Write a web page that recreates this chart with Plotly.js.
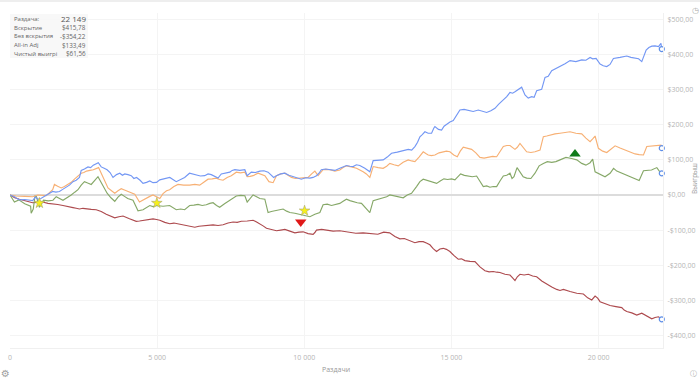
<!DOCTYPE html>
<html><head><meta charset="utf-8">
<script src="https://cdn.plot.ly/plotly-3.0.1.min.js"></script>
<style>html,body{margin:0;padding:0;background:#fff}#c{width:700px;height:379px}</style></head>
<body><div id="c"></div>
<script>
var blueX=[0,150,320,500,770,860,950,1050,1230,1450,1560,1680,1790,1900,2020,2140,2250,2360,2420,2530,2650,2740,2830,3000,3100,3200,3300,3400,3500,3620,3730,3820,3900,4010,4120,4210,4300,4420,4520,4640,4750,4860,4980,5090,5260,5430,5650,5790,5935,6100,6210,6330,6470,6615,6730,6840,6960,7070,7180,7320,7470,7550,7640,7810,7980,8060,8200,8340,8490,8630,8770,8960,9050,9200,9340,9480,9620,9760,9900,10050,10190,10300,10415,10500,10580,10720,10870,11040,11207,11320,11434,11550,11660,11770,11887,12058,12228,12341,12510,12681,12820,12965,13160,13362,13450,13532,13650,13759,13850,13929,14010,14099,14210,14326,14400,14439,14560,14666,14750,14836,14950,15063,15180,15289,15430,15573,15740,15913,16060,16197,16340,16480,16600,16707,16764,16880,16990,17080,17160,17280,17387,17500,17610,17727,17810,17897,17980,18067,18181,18290,18408,18550,18691,18860,19031,19230,19428,19570,19712,19800,19916,20052,20160,20279,20390,20505,20730,20959,21100,21242,21360,21469,21617,21710,21810,21920,22036,22120,22149];
var blueY=[0,-5,-14,-13,-16,-6,-12,-10,-1,10,8,10,16,22,28,38,42,50,70,74,80,78,85,92,80,76,72,64,50,58,62,56,60,58,55,47,50,42,33,36,40,35,36,43,47,50,38,44,50,62,60,58,54,55,60,58,52,48,60,63,65,70,72,70,72,55,65,64,68,69,65,50,55,60,62,56,52,50,45,49,48,50,55,62,72,74,72,70,76,80,84,82,81,86,84,76,66,98,99,100,108,119,122,126,128,130,128,138,150,166,172,180,176,176,190,195,187,185,196,202,208,212,226,242,244,242,238,242,238,235,240,247,258,266,271,280,292,290,294,300,307,285,276,280,278,297,299,301,335,338,354,360,367,374,383,380,385,384,392,388,389,373,368,366,372,389,392,396,392,389,388,380,413,420,424,425,423,432,415.78];
var orangeX=[0,200,500,770,940,1230,1450,1510,1620,1740,1850,1970,2080,2190,2300,2420,2510,2600,2720,2830,3010,3160,3330,3450,3560,3670,3780,3890,4000,4120,4240,4400,4520,4640,4750,4860,4980,5090,5200,5320,5425,5570,5710,5900,6105,6280,6445,6590,6730,6870,7010,7120,7240,7380,7520,7690,7830,7980,8060,8160,8260,8430,8550,8660,8800,8940,9055,9200,9340,9450,9565,9700,9850,10000,10130,10250,10360,10470,10640,10750,10870,11040,11207,11320,11434,11600,11774,12001,12110,12228,12341,12510,12681,12800,12908,13050,13192,13360,13532,13650,13759,13900,14042,14130,14212,14320,14439,14580,14722,14830,14949,15080,15199,15300,15403,15540,15686,15830,15970,16110,16253,16400,16537,16650,16764,16880,16990,17160,17240,17330,17440,17557,17700,17840,18011,18124,18240,18351,18520,18691,18860,19031,19230,19428,19570,19712,19800,19882,19995,20140,20279,20420,20562,20730,20902,21070,21242,21380,21526,21639,21800,21980,22120,22149];
var orangeY=[0,-3,-4,-5,0,-2,15,30,25,20,24,30,36,45,52,62,64,68,70,72,78,50,20,12,5,12,18,14,10,5,2,-20,-14,-8,-4,0,-6,-10,4,12,15,24,30,28,28,30,28,36,45,46,48,44,42,50,55,65,63,65,52,53,55,62,58,55,38,35,55,60,62,56,50,47,48,49,50,60,68,55,72,73,72,68,71,78,83,80,76,66,60,50,81,78,76,82,90,86,83,93,100,97,95,108,123,118,114,112,114,120,123,125,123,114,109,125,136,134,130,120,107,105,107,110,109,122,138,141,141,130,136,147,135,123,121,123,128,166,168,171,174,176,178,180,176,174,162,152,160,168,133,125,121,130,140,134,128,122,117,115,114,138,140,142,142,133.49];
var greenX=[0,150,300,500,700,720,790,850,900,970,1000,1140,1300,1460,1570,1800,1950,2080,2200,2310,2420,2530,2640,2760,2990,3100,3300,3430,3560,3670,3780,3890,4000,4180,4350,4520,4640,4750,4860,4980,5200,5425,5650,5800,5935,6105,6250,6390,6530,6670,6790,6900,7020,7125,7290,7465,7570,7690,7840,7980,8060,8150,8260,8380,8490,8660,8770,8880,8995,9140,9280,9400,9510,9680,9850,10020,10190,10360,10530,10640,10780,10925,11060,11207,11320,11434,11550,11660,11800,11944,12090,12228,12341,12510,12681,12800,12908,13140,13362,13500,13645,13815,13930,14042,14150,14269,14380,14496,14620,14745,14870,15006,15119,15220,15312,15440,15573,15710,15856,15970,16083,16200,16310,16420,16537,16650,16764,16880,16990,17060,17126,17230,17330,17440,17557,17700,17840,17980,18124,18260,18408,18550,18691,18890,19088,19260,19428,19570,19712,19800,19882,20052,20220,20392,20510,20619,20790,20959,21100,21242,21380,21526,21639,21800,21980,22120,22149];
var greenY=[0,-20,-14,-25,-32,-52,-40,-3,-5,-30,-35,-15,-17,-15,-5,-15,-8,0,8,15,28,38,34,30,52,35,5,-8,-18,-6,2,-4,-10,-15,-45,-42,-36,-30,-33,-30,-32,-30,-42,-40,-42,-30,-29,-27,-30,-28,-24,-22,-30,-35,-25,-15,-8,-3,-1,-2,-20,-12,0,-5,-10,-12,-50,-47,-45,-42,-40,-46,-50,-52,-55,-60,-62,-55,-50,-28,-26,-30,-28,-24,-18,-12,-16,-19,-22,-24,-36,-50,-16,-12,-9,-5,0,-4,-8,0,5,24,38,45,42,38,36,33,40,46,44,46,43,52,60,56,54,52,54,40,24,26,22,24,24,40,54,56,62,47,52,78,64,52,48,47,62,83,90,95,93,95,100,107,104,100,90,85,92,102,66,58,52,62,76,68,62,56,52,46,41,69,70,71,78,61.56];
var redX=[0,160,320,550,770,940,1110,1290,1460,1620,1800,1970,2140,2250,2360,2480,2590,2760,2930,3100,3270,3420,3560,3700,3840,4060,4290,4400,4520,4700,4860,4980,5090,5260,5430,5570,5710,5850,5990,6130,6280,6420,6560,6730,6900,7070,7240,7410,7580,7720,7860,8060,8260,8380,8490,8600,8715,8890,9055,9200,9340,9510,9680,9820,9960,10130,10300,10360,10415,10590,10755,10980,11207,11350,11500,11750,12000,12250,12500,12700,12900,13080,13248,13400,13532,13650,13758,13900,14042,14150,14269,14380,14495,14610,14722,14830,14949,15090,15232,15340,15459,15630,15800,15970,16140,16280,16423,16540,16650,16820,16990,17080,17160,17240,17330,17470,17614,17760,17897,18070,18238,18410,18578,18690,18805,18920,19031,19260,19485,19630,19769,19882,19970,20052,20220,20392,20590,20789,20870,20959,21130,21299,21469,21640,21809,21920,22036,22149];
var redY=[0,-8,-12,-17,-22,-21,-20,-24,-25,-27,-30,-34,-36,-38,-40,-38,-40,-41,-42,-47,-55,-60,-65,-62,-60,-68,-75,-74,-72,-70,-68,-70,-72,-78,-82,-80,-82,-86,-88,-90,-92,-89,-88,-86,-85,-87,-85,-80,-77,-78,-75,-74,-72,-77,-82,-88,-95,-99,-102,-100,-98,-103,-108,-106,-105,-110,-112,-107,-100,-98,-100,-103,-102,-104,-105,-109,-108,-110,-112,-106,-108,-118,-125,-124,-128,-131,-136,-133,-133,-137,-142,-153,-161,-154,-152,-155,-161,-173,-183,-182,-187,-189,-190,-205,-216,-219,-218,-220,-221,-226,-228,-236,-244,-233,-226,-228,-226,-231,-233,-245,-254,-262,-269,-272,-269,-273,-275,-280,-282,-293,-299,-288,-294,-304,-310,-315,-318,-321,-328,-332,-336,-342,-337,-345,-353,-349,-347,-354.22];
var endX=[22149,22149,22149,22149];
var endY=[415.78,133.49,61.56,-354.22];
var starX=[1000,4990,10010];
var starY=[-23,-23,-45];
var statLabels=['Раздача:','Вскрытие','Без вскрытия','All-in Adj','Чистый выигрі'];
var statValues=['22 149','$415,78','-$354,22','$133,49','$61,56'];
var xTicks=[0,5000,10000,15000,20000];
var xTickText=['0','5 000','10 000','15 000','20 000'];
var yTicks=[-400,-300,-200,-100,0,100,200,300,400,500];
var yTickText=['-$400,00','-$300,00','-$200,00','-$100,00','$0,00','$100,00','$200,00','$300,00','$400,00','$500,00'];

function ln(x,y,c){return {x:x,y:y,type:'scatter',mode:'lines',line:{color:c,width:1.15,shape:'linear'},hoverinfo:'skip'};}
var traces=[ln(redX,redY,'#ad4a4e'),ln(greenX,greenY,'#86a868'),ln(orangeX,orangeY,'#f7b074'),ln(blueX,blueY,'#7397f4'),
 {x:endX,y:endY,type:'scatter',mode:'markers',cliponaxis:false,marker:{symbol:'circle',size:5,color:'#fff',line:{color:'#5f8fe8',width:1.2}}},
 {x:starX,y:starY,type:'scatter',mode:'markers',marker:{symbol:'star',size:8,color:'#f7f01c',line:{color:'#a9a870',width:0.6}}},
 {x:[9880],y:[-77],type:'scatter',mode:'markers',marker:{symbol:'triangle-down',size:10,color:'#e01818'}},
 {x:[19200],y:[117],type:'scatter',mode:'markers',marker:{symbol:'triangle-up',size:10,color:'#0f7a1a'}}];
var ann=[];
var font={family:'"Open Sans","Noto Sans",sans-serif',size:6,color:'#666'};
statLabels.forEach(function(t,i){
 var py=19+i*8.7;
 ann.push({xref:'paper',yref:'paper',x:(11.5-10)/653,y:(348-py)/335,text:t,showarrow:false,xanchor:'left',yanchor:'middle',font:font});
 ann.push({xref:'paper',yref:'paper',x:(88-10)/653,y:(348-py)/335,text:statValues[i],showarrow:false,xanchor:'right',yanchor:'middle',font:i==0?{family:font.family,size:8,color:'#555'}:{family:font.family,size:6.3,color:'#666'}});
});
ann.push({xref:'paper',yref:'paper',x:(336-10)/653,y:(348-369)/335,text:'Раздачи',showarrow:false,font:{family:font.family,size:7,color:'#999'},xanchor:'center',yanchor:'middle'});
ann.push({xref:'paper',yref:'paper',x:(5-10)/653,y:(348-373)/335,text:'⚙',showarrow:false,font:{family:'DejaVu Sans',size:10,color:'#a0a0a0'},xanchor:'center',yanchor:'middle'});
ann.push({xref:'paper',yref:'paper',x:(693-10)/653,y:(348-374)/335,text:'ⓘ',showarrow:false,font:{family:'DejaVu Sans',size:7,color:'#aaa'},xanchor:'center',yanchor:'middle'});
ann.push({xref:'paper',yref:'paper',x:(695-10)/653,y:(348-10)/335,text:'◷',showarrow:false,font:{family:'DejaVu Sans',size:8,color:'#aaa'},xanchor:'center',yanchor:'middle'});
ann.push({xref:'paper',yref:'paper',x:(694-10)/653,y:(348-178)/335,text:'Выигрыш',textangle:-90,showarrow:false,font:{family:font.family,size:6.5,color:'#999'},xanchor:'center',yanchor:'middle'});
var layout={width:700,height:379,margin:{l:10,r:37,t:13,b:31},paper_bgcolor:'#fff',plot_bgcolor:'#fff',showlegend:false,
 xaxis:{range:[0,22190],tickvals:xTicks,ticktext:xTickText,showgrid:true,gridcolor:'#f4f4f4',gridwidth:1,zeroline:false,tickfont:{family:font.family,size:7,color:'#b5b5b5'},ticks:'',showline:true,linecolor:'#f0f0f0',ticklabelstandoff:3},
 yaxis:{range:[-436,518.5],side:'right',tickvals:yTicks,ticktext:yTickText,showgrid:true,gridcolor:'#f4f4f4',gridwidth:1,zeroline:true,zerolinecolor:'#dcdcdc',zerolinewidth:2,tickfont:{family:font.family,size:7,color:'#b5b5b5'},ticks:'',showline:true,linecolor:'#f0f0f0',ticklabelstandoff:2},
 annotations:ann,
 shapes:[{type:'rect',xref:'paper',yref:'paper',x0:0,x1:(88-10)/653,y0:(348-58)/335,y1:(348-14)/335,fillcolor:'#f7f7f7',line:{width:0},layer:'above',opacity:0.9},
 {type:'rect',xref:'paper',yref:'paper',x0:-10/653,x1:690/653,y0:(348-2)/335,y1:(348-0)/335,fillcolor:'#eeeeee',line:{width:0}}]};
Plotly.newPlot('c',traces,layout,{displayModeBar:false,staticPlot:true});
</script></body></html>
